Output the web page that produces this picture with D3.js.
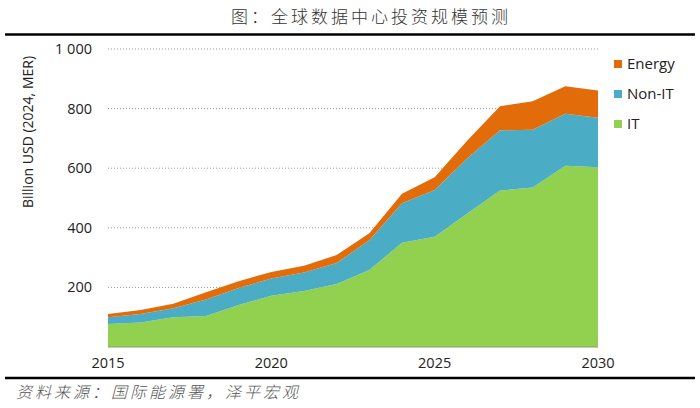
<!DOCTYPE html>
<html><head><meta charset="utf-8">
<script src="https://cdn.jsdelivr.net/npm/d3@7"></script>
<style>
html,body{margin:0;padding:0;background:#fff;}
svg{display:block;}
</style></head>
<body>
<svg id="c" width="700" height="408"></svg>
<script>
const years = [2015,2016,2017,2018,2019,2020,2021,2022,2023,2024,2025,2026,2027,2028,2029,2030];
const itValues     = [77, 82,100,104,141,172,188,211,258,350,370,448,525,535,608,603];
const nonItValues  = [23, 29, 30, 55, 57, 58, 62, 71,100,132,157,185,202,194,175,166];
const energyValues = [11, 13, 15, 25, 23, 22, 23, 27, 24, 32, 43, 60, 81, 96, 92, 92];
const seriesNames = ["IT","Non-IT","Energy"];
const yTicks = [200,400,600,800,1000];
const xTicks = [2015,2020,2025,2030];
const titleText = "图：全球数据中心投资规模预测";
const sourceText = "资料来源：国际能源署，泽平宏观";
const yTitle = "Billion USD (2024, MER)";

const colors = {"IT":"#92D050","Non-IT":"#4BACC6","Energy":"#E36C0A"};

const svg = d3.select("#c");
const x = d3.scaleLinear().domain([2015,2030]).range([108,598]);
const y = d3.scaleLinear().domain([0,1000]).range([347,49]);

// title & rules
svg.append("text").attr("x",371).attr("y",23).attr("text-anchor","middle")
  .attr("font-family","'Noto Sans CJK SC'").attr("font-size",17).attr("font-weight",300)
  .attr("letter-spacing",3).attr("fill","#333").text(titleText);
svg.append("line").attr("x1",5).attr("x2",695).attr("y1",34.5).attr("y2",34.5)
  .attr("stroke","#000").attr("stroke-width",2.5);
svg.append("line").attr("x1",5).attr("x2",695).attr("y1",378).attr("y2",378)
  .attr("stroke","#000").attr("stroke-width",2.5);
svg.append("text").attr("x",16).attr("y",398)
  .attr("font-family","'Noto Sans CJK SC'").attr("font-size",16).attr("font-weight",300)
  .attr("font-style","italic").attr("letter-spacing",3).attr("fill","#555")
  .text(sourceText);

// grid
const grid = svg.append("g");
grid.selectAll("line").data(yTicks).join("line")
  .attr("x1",108).attr("x2",600).attr("y1",d=>y(d)).attr("y2",d=>y(d))
  .attr("stroke","#999").attr("stroke-width",1).attr("stroke-dasharray","1,2");

// stacked data
const table = years.map((yr,i)=>({year:yr,"IT":itValues[i],"Non-IT":nonItValues[i],"Energy":energyValues[i]}));
const stack = d3.stack().keys(seriesNames)(table);
const area = d3.area().x(d=>x(d.data.year)).y0(d=>y(d[0])).y1(d=>y(d[1]));
svg.append("g").selectAll("path").data(stack).join("path")
  .attr("d",area).attr("fill",d=>colors[d.key]);

// x baseline
svg.append("line").attr("x1",108).attr("x2",598).attr("y1",347).attr("y2",347)
  .attr("stroke","#8a9a70").attr("stroke-width",1);

// y axis labels
const fmt = d => d>=1000 ? d3.format(",")(d).replace(","," ") : String(d);
svg.append("g").selectAll("text").data(yTicks).join("text")
  .attr("x",92).attr("y",d=>y(d)+5).attr("text-anchor","end")
  .attr("font-family","'Open Sans', sans-serif").attr("font-size",14.5).attr("fill","#222")
  .text(fmt);
// x axis labels
svg.append("g").selectAll("text").data(xTicks).join("text")
  .attr("x",d=>x(d)).attr("y",368).attr("text-anchor","middle")
  .attr("font-family","'Open Sans', sans-serif").attr("font-size",14.5).attr("fill","#222")
  .text(d=>d);
// y title
svg.append("text").attr("transform","translate(33,132) rotate(-90)").attr("text-anchor","middle")
  .attr("font-family","'Open Sans', sans-serif").attr("font-size",14).attr("fill","#222")
  .text(yTitle);

// legend
const legendOrder = ["Energy","Non-IT","IT"];
const lg = svg.append("g").selectAll("g").data(legendOrder).join("g")
  .attr("transform",(d,i)=>`translate(614,${64+i*30})`);
lg.append("rect").attr("x",0).attr("y",-4).attr("width",8).attr("height",8).attr("fill",d=>colors[d]);
lg.append("text").attr("x",13).attr("y",5).attr("font-family","'Open Sans', sans-serif")
  .attr("font-size",15).attr("fill","#222").text(d=>d);
</script>
</body></html>
